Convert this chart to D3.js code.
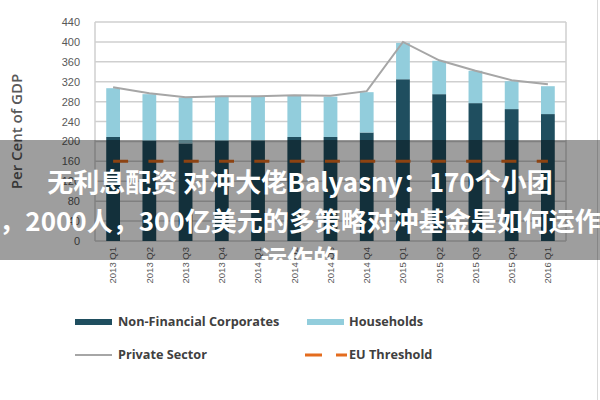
<!DOCTYPE html>
<html>
<head>
<meta charset="utf-8">
<script src="https://cdn.jsdelivr.net/npm/d3@7"></script>
<style>
  body { margin: 0; background: #fff; }
  #chart-container { position: relative; width: 600px; height: 400px; overflow: hidden; }
  .overlay {
    position: absolute; left: 0; top: 140px; width: 600px; height: 120px;
    background: rgba(0, 0, 0, 0.38); overflow: hidden;
  }
  .overlay div {
    position: absolute; left: -100px; width: 800px; text-align: center;
    font-family: "Noto Sans CJK SC", "Noto Sans", sans-serif; font-weight: bold;
    font-size: 26px; color: #fff; white-space: nowrap; line-height: 40px;
  }
</style>
</head>
<body>
<div id="chart-container"></div>
<script>
// chart data
var quarters = ["2013 Q1", "2013 Q2", "2013 Q3", "2013 Q4", "2014 Q1", "2014 Q2", "2014 Q3",
                "2014 Q4", "2015 Q1", "2015 Q2", "2015 Q3", "2015 Q4", "2016 Q1"];
var corporates = [209, 201, 196, 201, 202, 209, 209, 218, 325, 295, 277, 265, 255];
var households = [98, 94, 92, 89, 88, 83, 81, 81, 73, 67, 65, 56, 56];
var privateSector = [309, 297, 289, 291, 291, 293, 292, 301, 400, 363, 342, 323, 315];
var euThreshold = [160, 160, 160, 160, 160, 160, 160, 160, 160, 160, 160, 160, 160];
var yTicks = [0, 40, 80, 120, 160, 200, 240, 280, 320, 360, 400, 440];
var overlayLines = ["无利息配资 对冲大佬Balyasny：170个小团",
                    "，2000人，300亿美元的多策略对冲基金是如何运作",
                    "运作的"];

function drawChart() {
  var margin = {top: 22, right: 34, bottom: 159, left: 95},
      width = 600 - margin.left - margin.right,
      height = 400 - margin.top - margin.bottom;

  var root = d3.select("#chart-container")
    .append("svg")
    .attr("width", 600)
    .attr("height", 400)
    .style("font-family", "'Open Sans', sans-serif");

  // outer frame edge on the right
  root.append("line")
    .attr("x1", 597.5).attr("x2", 597.5)
    .attr("y1", 0).attr("y2", 400)
    .style("stroke", "#d9d9d9");

  var svg = root.append("g")
    .attr("transform", "translate(" + margin.left + "," + margin.top + ")");

  var xScale = d3.scaleBand()
    .domain(quarters)
    .range([0, width])
    .paddingInner(0.62)
    .paddingOuter(0.31);

  var yScale = d3.scaleLinear()
    .domain([0, 440])
    .range([height, 0]);

  // gridlines
  svg.append("g")
    .selectAll("line")
    .data(yTicks)
    .enter()
    .append("line")
    .attr("x1", 0).attr("x2", width)
    .attr("y1", function(d) { return yScale(d); })
    .attr("y2", function(d) { return yScale(d); })
    .style("stroke", "#cfcfcf")
    .style("stroke-width", 1.5);

  // plot border sides
  svg.append("line").attr("x1", 0).attr("x2", 0).attr("y1", 0).attr("y2", height)
    .style("stroke", "#cfcfcf").style("stroke-width", 1.5);
  svg.append("line").attr("x1", width).attr("x2", width).attr("y1", 0).attr("y2", height)
    .style("stroke", "#cfcfcf").style("stroke-width", 1.5);

  // y axis
  var yAxis = svg.append("g")
    .call(d3.axisLeft(yScale).tickValues(yTicks).tickSize(0).tickPadding(15));
  yAxis.select(".domain").remove();
  yAxis.selectAll("text")
    .style("font-size", "11px")
    .style("fill", "#595959");

  svg.append("text")
    .attr("transform", "rotate(-90)")
    .attr("x", -(height / 2))
    .attr("y", -73)
    .style("text-anchor", "middle")
    .style("font-size", "15px")
    .style("font-weight", "600")
    .style("fill", "#595959")
    .text("Per Cent of GDP");

  // x axis labels
  var xAxis = svg.append("g")
    .attr("transform", "translate(0," + height + ")")
    .call(d3.axisBottom(xScale).tickSize(0));
  xAxis.select(".domain").remove();
  xAxis.selectAll("text")
    .attr("transform", "rotate(-90)")
    .attr("x", -6)
    .attr("y", 0)
    .attr("dy", ".35em")
    .style("text-anchor", "end")
    .style("font-size", "9.5px")
    .style("fill", "#595959");

  // stacked bars
  var rows = quarters.map(function(q, i) {
    return {quarter: q, corporates: corporates[i], households: households[i]};
  });
  var stack = d3.stack().keys(["corporates", "households"]);
  var colors = {corporates: "#1f4e5f", households: "#92cddc"};

  svg.selectAll(".series")
    .data(stack(rows))
    .enter()
    .append("g")
    .attr("class", "series")
    .style("fill", function(d) { return colors[d.key]; })
    .selectAll("rect")
    .data(function(d) { return d; })
    .enter()
    .append("rect")
    .attr("x", function(d) { return xScale(d.data.quarter); })
    .attr("y", function(d) { return yScale(d[1]); })
    .attr("width", xScale.bandwidth())
    .attr("height", function(d) { return yScale(d[0]) - yScale(d[1]); });

  // private sector line
  var line = d3.line()
    .x(function(d, i) { return xScale(quarters[i]) + xScale.bandwidth() / 2; })
    .y(function(d) { return yScale(d); });

  svg.append("path")
    .datum(privateSector)
    .attr("d", line)
    .style("fill", "none")
    .style("stroke", "#a6a6a6")
    .style("stroke-width", 2);

  // EU threshold
  svg.append("path")
    .datum(euThreshold)
    .attr("d", line)
    .style("fill", "none")
    .style("stroke", "#e46c1e")
    .style("stroke-width", 3)
    .style("stroke-dasharray", "15,20.3");

  // legend
  var legend = root.append("g")
    .style("font-size", "12.7px")
    .style("font-weight", "bold")
    .style("fill", "#404040");

  var items = [
    {label: "Non-Financial Corporates", x: 75, y: 322, type: "bar", color: colors.corporates},
    {label: "Households", x: 307, y: 322, type: "bar", color: colors.households},
    {label: "Private Sector", x: 75, y: 355, type: "line", color: "#a6a6a6"},
    {label: "EU Threshold", x: 305, y: 355, type: "dash", color: "#e46c1e"}
  ];

  items.forEach(function(it) {
    var g = legend.append("g").attr("transform", "translate(" + it.x + "," + it.y + ")");
    if (it.type === "bar") {
      g.append("rect").attr("x", 0).attr("y", -3).attr("width", 37).attr("height", 6)
        .style("fill", it.color);
      g.append("text").attr("x", it.x > 200 ? 42 : 43).attr("dy", ".35em").text(it.label);
    } else if (it.type === "line") {
      g.append("line").attr("x1", 0).attr("x2", 37).attr("y1", 0).attr("y2", 0)
        .style("stroke", it.color).style("stroke-width", 2);
      g.append("text").attr("x", 43).attr("dy", ".35em").text(it.label);
    } else {
      g.append("line").attr("x1", 0).attr("x2", 42).attr("y1", 0).attr("y2", 0)
        .style("stroke", it.color).style("stroke-width", 3)
        .style("stroke-dasharray", "17,14");
      g.append("text").attr("x", 44).attr("dy", ".35em").text(it.label);
    }
  });

  // banner overlay on top of chart
  var overlay = d3.select("#chart-container")
    .append("div")
    .attr("class", "overlay");
  overlay.selectAll("div")
    .data(overlayLines)
    .enter()
    .append("div")
    .style("top", function(d, i) { return (21 + i * 38.5) + "px"; })
    .text(function(d) { return d; });
}

drawChart();
</script>
</body>
</html>
